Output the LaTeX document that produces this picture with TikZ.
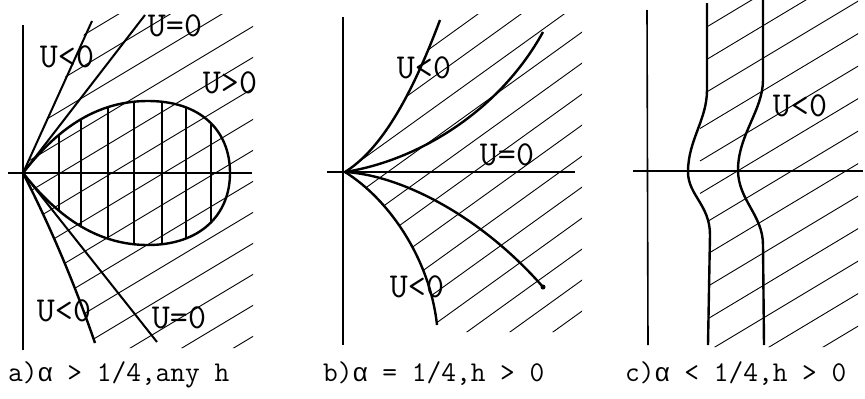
\documentclass[tikz,border=0pt]{standalone}
\usepackage{fontspec}
\newfontfamily\gkfont{Liberation Mono}
\newcommand{\alf}{\makebox[0.525em]{\gkfont\fontsize{26}{26}\selectfont α}}
\begin{document}
\begin{tikzpicture}[x=1pt,y=-1pt,
  axis/.style={line width=1.6pt},
  curve/.style={line width=2.4pt},
  thincurve/.style={line width=2pt},
  hatch/.style={line width=0.9pt},
  vhatch/.style={line width=1.3pt},
  lbl/.style={font=\ttfamily\fontsize{35}{35}\selectfont, inner sep=0pt},
  captxt/.style={font=\ttfamily\fontsize{28.6}{28.6}\selectfont, inner sep=0pt, anchor=base west}]
\useasboundingbox (0,0) rectangle (865,399);

% ---------------- panel a ----------------
\coordinate (Oa) at (23,173);
\coordinate (a1) at (92,21);
\coordinate (a2) at (145,15);
\coordinate (a3) at (157,342);
\coordinate (a4) at (95,343);
\begin{scope}
  \clip (Oa) -- (93,14) -- (253,14) -- (253,348) -- (96,348) .. controls (70,270) and (42,210) .. (Oa);
  \foreach \k in {-9,...,6} \draw[hatch] (0,{333.2+31*\k}) -- (260,{177.2+31*\k});
\end{scope}
\begin{scope}
  \clip (Oa) .. controls (60,125) and (100,101) .. (148,101) .. controls (200,101) and (230,130) .. (230,173)
        .. controls (230,215) and (200,245) .. (148,245) .. controls (100,245) and (60,220) .. (Oa);
  \foreach \x in {59,81,108,134,162,186,211} \draw[vhatch] (\x,95) -- (\x,250);
\end{scope}
\draw[curve] (Oa) .. controls (60,125) and (100,101) .. (148,101) .. controls (200,101) and (230,130) .. (230,173)
        .. controls (230,215) and (200,245) .. (148,245) .. controls (100,245) and (60,220) .. (Oa);
\draw[thincurve] (Oa) -- (a1);
\draw[thincurve] (Oa) -- (a2);
\draw[thincurve] (Oa) -- (a3);
\draw[curve] (Oa) .. controls (42,210) and (70,270) .. (a4);
\draw[axis] (23,25) -- (23,350);
\draw[axis] (8,173) -- (252,173);
\node[lbl] (ua1) at (67,57) {U<0};
\node[lbl] (ua2) at (175,26) {U=0};
\node[lbl] (ua3) at (230,83) {U>0};
\node[lbl] (ua4) at (64,311) {U<0};
\node[lbl] (ua5) at (179,318) {U=0};

% ---------------- panel b ----------------
\coordinate (Ob) at (345,172);
\coordinate (b1) at (440,20);
\coordinate (b2) at (543,32);
\coordinate (b3) at (543,287);
\coordinate (b4) at (437,325);
\begin{scope}
  \clip (Ob) .. controls (380,150) and (410,100) .. (440,20) -- (440,14) -- (582,14) -- (582,332) -- (437,332) -- (437,325)
        .. controls (430,260) and (390,200) .. (Ob);
  \foreach \k in {-9,...,5} \draw[hatch] (330,{368.56+31*\k}) -- (585,{184.96+31*\k});
\end{scope}
\draw[curve] (Ob) .. controls (380,150) and (410,100) .. (b1);
\draw[curve] (Ob) .. controls (420,160) and (500,110) .. (b2);
\draw[curve] (Ob) .. controls (400,175) and (480,215) .. (b3);
\fill (b3) circle (2.5pt);
\draw[curve] (Ob) .. controls (390,200) and (430,260) .. (b4);
\draw[axis] (343,17) -- (343,345);
\draw[axis] (327,172) -- (575,172);
\node[lbl] (ub1) at (424,68) {U<0};
\node[lbl] (ub2) at (507,155) {U=0};
\node[lbl] (ub3) at (417,287) {U<0};

% ---------------- panel c ----------------
\coordinate (c1t) at (707,3);
\coordinate (c1b) at (708,345);
\coordinate (c2t) at (763,0);
\coordinate (c2b) at (764,345);
\begin{scope}
  \clip (707,-2) -- (707,90) .. controls (707,120) and (688,140) .. (688,172) .. controls (688,195) and (710,205) .. (710,235)
        -- (708,347) -- (858,347) -- (858,-2) -- cycle;
  \foreach \k in {-3,...,11} \draw[hatch] (700,{96+32.5*\k}) -- (860,{32.5*\k});
\end{scope}
\draw[curve] (c1t) -- (707,90) .. controls (707,120) and (688,140) .. (688,172) .. controls (688,195) and (710,205) .. (710,235) -- (c1b);
\draw[curve] (c2t) -- (763,80) .. controls (763,110) and (738,135) .. (738,170) .. controls (738,200) and (763,215) .. (763,245) -- (c2b);
\draw[axis] (647,10) -- (648,345);
\draw[axis] (633,171) -- (863,171);
\node[lbl] (uc1) at (800,106) {U<0};

% ---------------- captions ----------------
\node[captxt] (capa) at (8,381) {a)\alf{} > 1/4,any h};
\node[captxt] (capb) at (323,381) {b)\alf{} = 1/4,h > 0};
\node[captxt] (capc) at (625,381) {c)\alf{} < 1/4,h > 0};
\end{tikzpicture}
\end{document}
